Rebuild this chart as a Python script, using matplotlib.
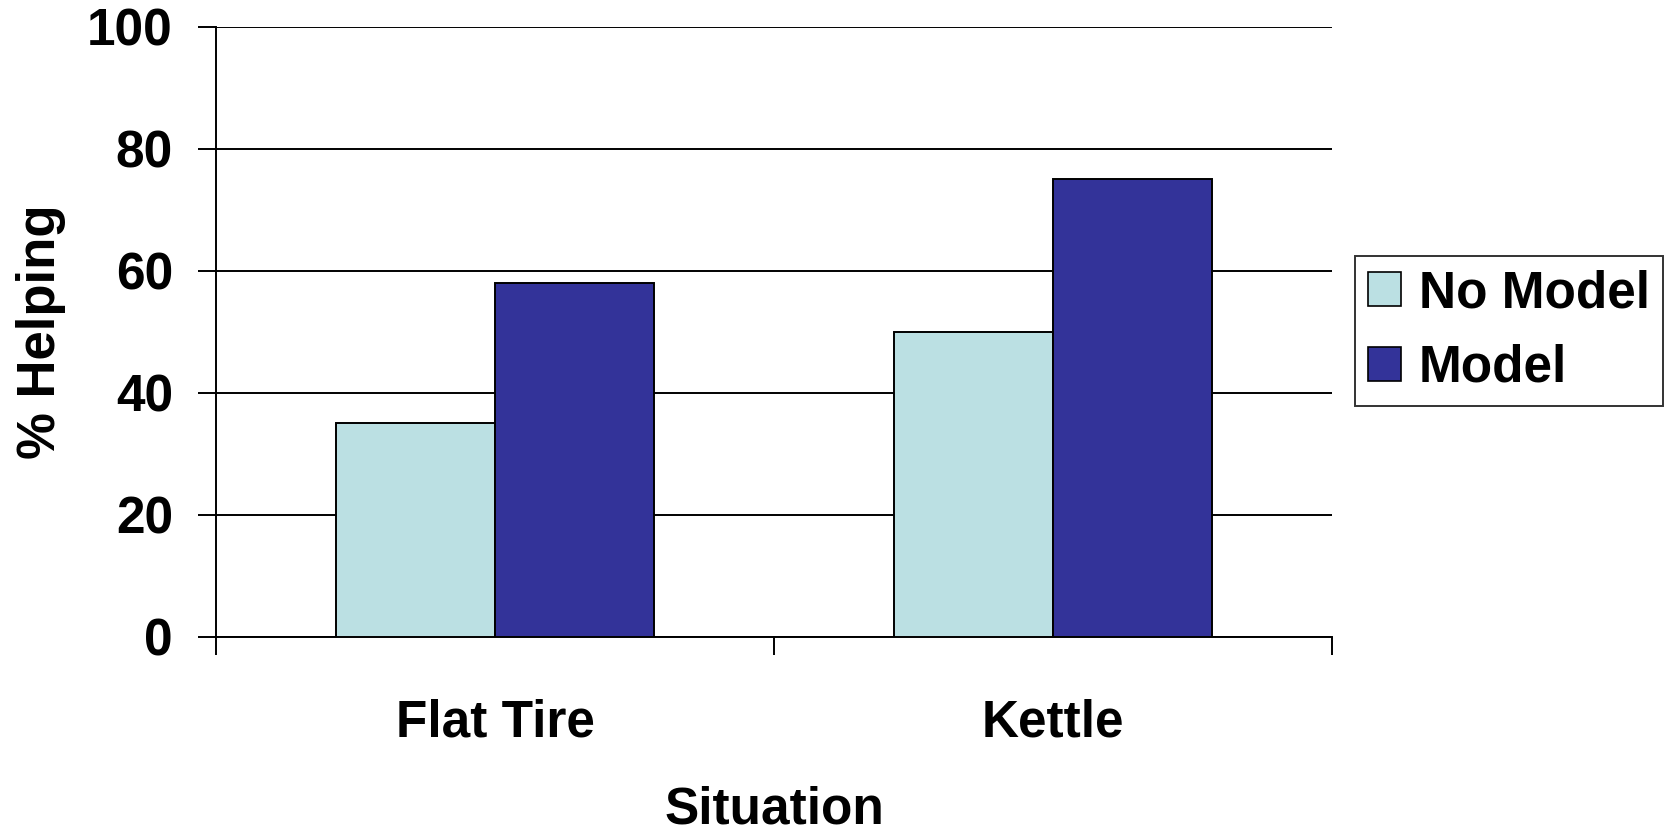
import matplotlib
matplotlib.use("Agg")
import matplotlib.pyplot as plt
from matplotlib.patches import Patch

plt.rcParams['font.family'] = ['Liberation Sans', 'DejaVu Sans']
plt.rcParams['font.weight'] = 'bold'

situations = ["Flat Tire", "Kettle"]
no_model = [35, 50]
model = [58, 75]
series_names = ["No Model", "Model"]
yticks = [0, 20, 40, 60, 80, 100]

c_no = "#BBE0E3"
c_mod = "#333399"

W, H = 1667, 839
fig = plt.figure(figsize=(W / 100, H / 100), dpi=100)
ax = fig.add_axes([216 / W, (H - 637) / H, 1116 / W, (637 - 26.7) / H])

fs = 37
bw = 1 / 3.5
centers = [i + 0.5 for i in range(len(situations))]
ax.bar([c - bw / 2 for c in centers], no_model, width=bw, color=c_no,
       edgecolor="black", linewidth=1.4, zorder=3)
ax.bar([c + bw / 2 for c in centers], model, width=bw, color=c_mod,
       edgecolor="black", linewidth=1.4, zorder=3)

ax.set_xlim(0, len(situations))
ax.set_ylim(0, 100)
ax.set_yticks(yticks)
ax.set_yticklabels([str(v) for v in yticks], fontsize=fs, fontweight="bold")
ax.yaxis.grid(True, color="black", linewidth=1.4, zorder=0)
ax.set_axisbelow(True)

ax.set_xticks(range(len(situations) + 1))
ax.set_xticklabels([])
ax.set_xticks(centers, minor=True)
ax.set_xticklabels(situations, minor=True, fontsize=fs, fontweight="bold")
ax.tick_params(axis="x", which="major", direction="out", length=13, width=1.4)
ax.tick_params(axis="x", which="minor", length=0, pad=44)
ax.tick_params(axis="y", direction="out", length=13, width=1.4, pad=18)

for s in ["top", "right"]:
    ax.spines[s].set_visible(False)
ax.spines["left"].set_linewidth(1.4)
ax.spines["bottom"].set_linewidth(1.4)

ax.set_xlabel("Situation", fontsize=fs, fontweight="bold", labelpad=28)
ax.set_ylabel("% Helping", fontsize=38, fontweight="bold", labelpad=15)

handles = [Patch(facecolor=c_no, edgecolor="black", linewidth=1.2),
           Patch(facecolor=c_mod, edgecolor="black", linewidth=1.2)]
leg = fig.legend(handles, series_names, loc="center left",
                 bbox_to_anchor=(1355 / W, 1 - 331 / H),
                 prop={"weight": "bold", "size": fs},
                 frameon=True, fancybox=False, handlelength=0.64,
                 handleheight=0.64, handletextpad=0.35, borderpad=0.25,
                 labelspacing=0.5, borderaxespad=0)
leg.get_frame().set_edgecolor("black")
leg.get_frame().set_linewidth(1.4)

fig.savefig("out.png", dpi=100)
